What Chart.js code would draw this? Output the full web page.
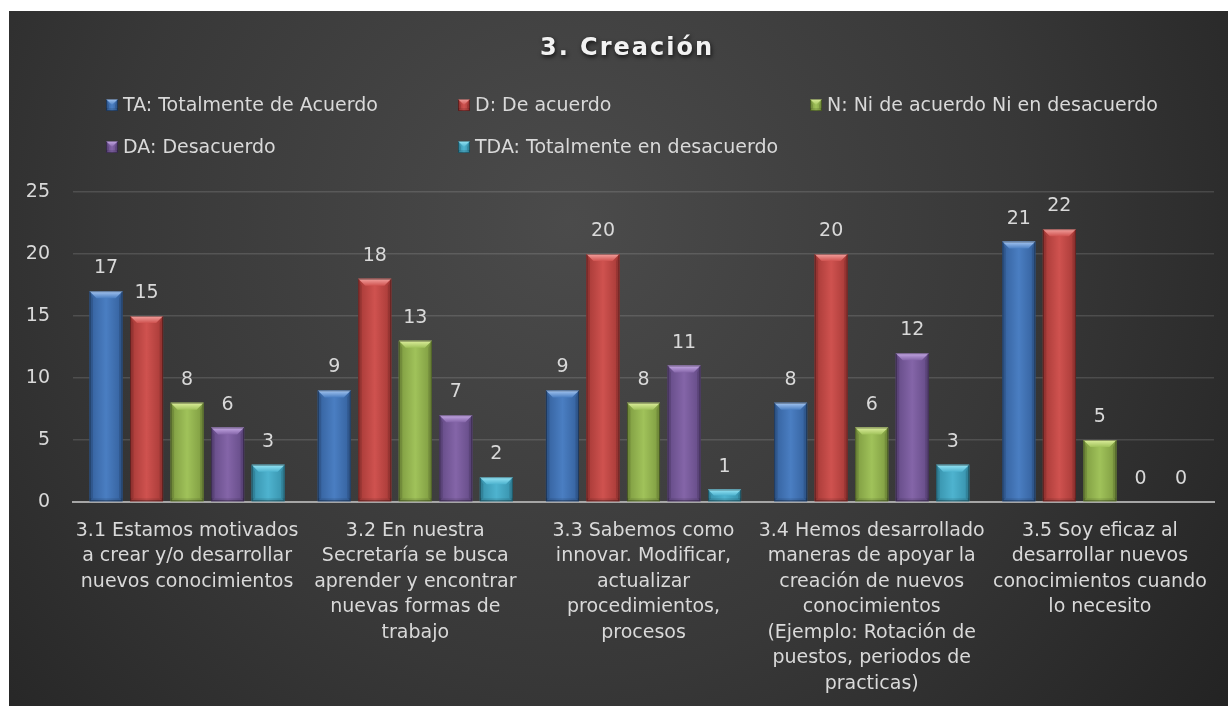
<!DOCTYPE html>
<html><head><meta charset="utf-8">
<script src="https://cdn.jsdelivr.net/npm/chart.js@4.4.1/dist/chart.umd.min.js"></script>
<style>
html,body{margin:0;padding:0;background:#fff;width:1228px;height:706px;overflow:hidden;}
#wrap{position:absolute;left:9px;top:11px;width:1219px;height:695px;}
canvas{display:block;}
</style></head><body>
<div id="wrap"><canvas id="c" width="1219" height="695"></canvas></div>
<script>
const categories = [
  ["3.1 Estamos motivados","a crear y/o desarrollar","nuevos conocimientos"],
  ["3.2 En nuestra","Secretaría se busca","aprender y encontrar","nuevas formas de","trabajo"],
  ["3.3 Sabemos como","innovar. Modificar,","actualizar","procedimientos,","procesos"],
  ["3.4 Hemos desarrollado","maneras de apoyar la","creación de nuevos","conocimientos","(Ejemplo: Rotación de","puestos, periodos de","practicas)"],
  ["3.5 Soy eficaz al","desarrollar nuevos","conocimientos cuando","lo necesito"]
];
const seriesNames = ["TA: Totalmente de Acuerdo","D: De acuerdo","N: Ni de acuerdo Ni en desacuerdo","DA: Desacuerdo","TDA: Totalmente en desacuerdo"];
const valuesTA  = [17, 9, 9, 8, 21];
const valuesD   = [15, 18, 20, 20, 22];
const valuesN   = [8, 13, 8, 6, 5];
const valuesDA  = [6, 7, 11, 12, 0];
const valuesTDA = [3, 2, 1, 3, 0];
const yTicks = [0, 5, 10, 15, 20, 25];
const chartTitle = "3. Creación";

const FONT = "'DejaVu Sans',sans-serif";
const FSIZE = 19;
const TEXT = '#d9d9d9';
const palette = [
  {base:'#4a7ec2', dark:'#34609c', light:'#a8c8f2'},
  {base:'#cf524f', dark:'#a53936', light:'#f3a3a0'},
  {base:'#a0c25a', dark:'#7d9a40', light:'#deef9e'},
  {base:'#8465a8', dark:'#634a85', light:'#c6aae6'},
  {base:'#4eb3cf', dark:'#3690aa', light:'#98e6f6'}
];
const seriesValues = [valuesTA, valuesD, valuesN, valuesDA, valuesTDA];

function draw3DBar(ctx, l, r, t, b, col) {
  const w = r - l, h = b - t;
  if (h < 0.5) return;
  ctx.save();
  const g = ctx.createLinearGradient(l, 0, r, 0);
  g.addColorStop(0, col.dark);
  g.addColorStop(0.5, col.base);
  g.addColorStop(1, col.dark);
  ctx.fillStyle = g;
  ctx.fillRect(l, t, w, h);
  const bv = Math.min(7, h / 2, w / 2);
  const tg = ctx.createLinearGradient(0, t, 0, t + bv);
  tg.addColorStop(0, col.light);
  tg.addColorStop(1, col.base);
  ctx.fillStyle = tg;
  ctx.beginPath();
  ctx.moveTo(l, t); ctx.lineTo(r, t); ctx.lineTo(r - bv, t + bv); ctx.lineTo(l + bv, t + bv); ctx.closePath();
  ctx.fill();
  ctx.fillStyle = 'rgba(0,0,0,0.12)';
  ctx.beginPath();
  ctx.moveTo(l, t); ctx.lineTo(l + bv * 0.5, t + bv); ctx.lineTo(l + bv * 0.5, b - bv * 0.5); ctx.lineTo(l, b); ctx.closePath(); ctx.fill();
  ctx.beginPath();
  ctx.moveTo(r, t); ctx.lineTo(r - bv * 0.5, t + bv); ctx.lineTo(r - bv * 0.5, b - bv * 0.5); ctx.lineTo(r, b); ctx.closePath(); ctx.fill();
  ctx.fillStyle = 'rgba(0,0,0,0.10)';
  ctx.fillRect(l, b - Math.min(3, h / 3), w, Math.min(3, h / 3));
  ctx.strokeStyle = 'rgba(0,0,0,0.35)';
  ctx.lineWidth = 1;
  ctx.strokeRect(l + 0.5, t + 0.5, w - 1, h - 1);
  ctx.restore();
}

const bgPlugin = {
  id: 'bg',
  beforeDraw(chart) {
    const {ctx, width, height} = chart;
    ctx.save();
    const g = ctx.createRadialGradient(560, 210, 0, 560, 210, 820);
    g.addColorStop(0, '#4b4b4b');
    g.addColorStop(0.55, '#383838');
    g.addColorStop(1, '#232323');
    ctx.fillStyle = g;
    ctx.fillRect(0, 0, width, height);
    ctx.restore();
  }
};

const barsPlugin = {
  id: 'bars3d',
  afterDatasetsDraw(chart) {
    const ctx = chart.ctx;
    chart.data.datasets.forEach((ds, di) => {
      const meta = chart.getDatasetMeta(di);
      meta.data.forEach((el, i) => {
        const p = el.getProps(['x', 'y', 'base', 'width'], true);
        const l = p.x - p.width / 2, r = p.x + p.width / 2;
        const t = Math.min(p.y, p.base), b = Math.max(p.y, p.base);
        draw3DBar(ctx, l, r, t, b, palette[di]);
        ctx.save();
        ctx.font = FSIZE + "px " + FONT;
        ctx.fillStyle = TEXT;
        ctx.textAlign = 'center';
        ctx.textBaseline = 'alphabetic';
        ctx.fillText(String(ds.data[i]), p.x, t - 18);
        ctx.restore();
      });
    });
  }
};

const titleLegendPlugin = {
  id: 'titleLegend',
  afterDraw(chart) {
    const ctx = chart.ctx;
    ctx.save();
    ctx.font = "bold 24px 'DejaVu Sans',sans-serif";
    ctx.letterSpacing = '2px';
    ctx.textAlign = 'center';
    ctx.textBaseline = 'middle';
    ctx.shadowColor = 'rgba(0,0,0,0.75)';
    ctx.shadowBlur = 4;
    ctx.shadowOffsetX = 1;
    ctx.shadowOffsetY = 2;
    ctx.fillStyle = '#f2f2f2';
    ctx.fillText(chartTitle, 618, 38);
    ctx.restore();

    const cols = [97, 449, 801];
    const rows = [94, 136];
    ctx.save();
    ctx.font = FSIZE + "px " + FONT;
    ctx.textAlign = 'left';
    ctx.textBaseline = 'middle';
    chart.data.datasets.forEach((ds, i) => {
      const cx = cols[i % 3], cy = rows[Math.floor(i / 3)];
      draw3DBar(ctx, cx, cx + 12, cy - 6, cy + 6, palette[i]);
      ctx.fillStyle = TEXT;
      ctx.fillText(ds.label, cx + 17, cy + 1);
    });
    ctx.restore();
  }
};

const datasets = seriesNames.map((name, i) => ({
  label: name,
  data: seriesValues[i],
  backgroundColor: palette[i].base,
  borderWidth: 0,
  categoryPercentage: 0.888,
  barPercentage: 0.815
}));

new Chart(document.getElementById('c'), {
  type: 'bar',
  data: { labels: categories, datasets },
  options: {
    responsive: false,
    animation: false,
    events: [],
    layout: { padding: { top: 181, right: 14, left: 0, bottom: 0 } },
    plugins: { legend: { display: false }, title: { display: false }, tooltip: { enabled: false } },
    scales: {
      x: {
        grid: { display: false, drawTicks: false },
        border: { display: true, color: '#a6a6a6', width: 2 },
        ticks: {
          color: TEXT, font: { family: FONT, size: FSIZE, lineHeight: '25.5px' },
          maxRotation: 0, autoSkip: false, padding: 16
        },
        afterFit(s) { s.height = 204; }
      },
      y: {
        min: 0, max: 25,
        afterBuildTicks(s) { s.ticks = yTicks.map(v => ({ value: v })); },
        grid: {
          drawTicks: false,
          color: ctx => ctx.tick && ctx.tick.value === 0 ? 'rgba(0,0,0,0)' : 'rgba(255,255,255,0.13)',
          lineWidth: 1.5
        },
        border: { display: false },
        ticks: { color: TEXT, font: { family: FONT, size: FSIZE }, padding: 23 },
        afterFit(s) { s.width = 64; }
      }
    }
  },
  plugins: [bgPlugin, barsPlugin, titleLegendPlugin]
});
</script>
</body></html>
